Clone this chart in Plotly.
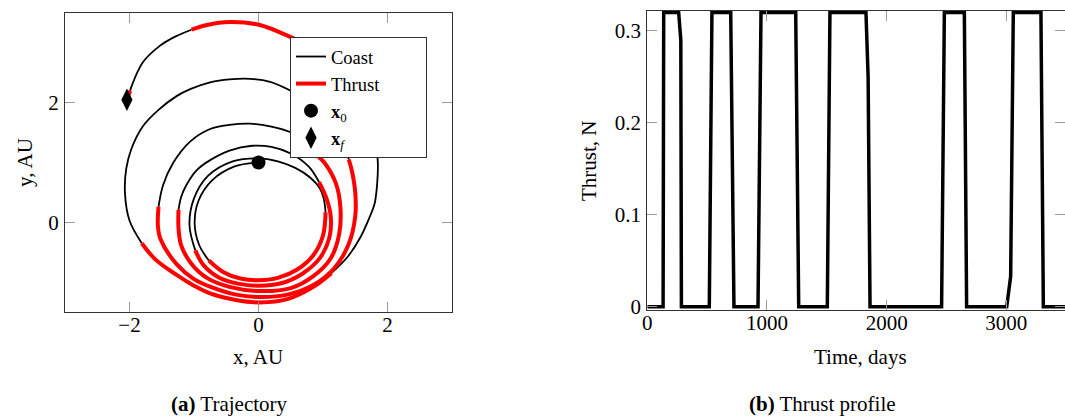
import plotly.graph_objects as go

# ---------------- Trajectory (AU) ----------------
# Coast arcs
C0_X = [0.0, -0.38, -0.72, -0.93, -0.99, -0.92, -0.77]
C0_Y = [1.0, 0.93, 0.70, 0.36, -0.02, -0.38, -0.64]
C1_X = [1.04, 1.01, 0.95, 0.80, 0.57, 0.30, 0.0, -0.40, -0.78, -1.0, -1.07, -0.98]
C1_Y = [0.17, 0.40, 0.57, 0.75, 0.91, 1.02, 1.07, 1.02, 0.78, 0.40, -0.05, -0.47]
C2_X = [0.94, 0.78, 0.50, 0.20, -0.10, -0.45, -0.75, -0.96, -1.12, -1.20, -1.24]
C2_Y = [0.67, 0.93, 1.15, 1.26, 1.28, 1.20, 1.04, 0.87, 0.62, 0.42, 0.21]
C3_X = [0.72, 0.49, 0.20, -0.13, -0.45, -0.75, -1.06, -1.32, -1.48, -1.55]
C3_Y = [1.38, 1.51, 1.60, 1.65, 1.63, 1.56, 1.35, 1.00, 0.62, 0.26]
C4_X = [1.40, 1.35, 1.20, 0.95, 0.50, 0.18, -0.13, -0.45, -0.75, -1.05, -1.27,
        -1.55, -1.79, -1.97, -2.05, -2.07, -2.00, -1.81]
C4_Y = [1.05, 1.25, 1.60, 1.90, 2.20, 2.35, 2.40, 2.39, 2.34, 2.23, 2.11,
        1.88, 1.61, 1.23, 0.90, 0.48, 0.03, -0.35]
C5_X = [1.13, 1.38, 1.58, 1.72, 1.80, 1.84, 1.85, 1.82, 1.74, 1.60]
C5_Y = [-0.85, -0.58, -0.25, 0.08, 0.31, 0.65, 1.00, 1.32, 1.68, 2.05]
C6_X = [-1.04, -1.30, -1.53, -1.79, -1.97, -1.99]
C6_Y = [3.22, 3.10, 2.95, 2.68, 2.27, 2.20]

# Thrust arcs
T1_X = [-0.77, -0.55, -0.28, 0.0, 0.30, 0.60, 0.85, 1.00, 1.04]
T1_Y = [-0.64, -0.83, -0.94, -0.97, -0.93, -0.79, -0.55, -0.22, 0.17]
T2_X = [-0.98, -0.85, -0.60, -0.30, 0.0, 0.35, 0.68, 0.95, 1.10, 1.12, 1.06, 0.94]
T2_Y = [-0.47, -0.72, -0.93, -1.03, -1.06, -1.02, -0.86, -0.60, -0.25, 0.10, 0.38, 0.67]
T3_X = [-1.24, -1.24, -1.20, -1.05, -0.80, -0.45, 0.02, 0.50, 0.85, 1.12, 1.25,
        1.27, 1.20, 1.02, 0.85, 0.72]
T3_Y = [0.21, -0.10, -0.38, -0.68, -0.93, -1.08, -1.15, -1.10, -0.90, -0.60, -0.20,
        0.25, 0.65, 1.00, 1.18, 1.38]
T4_X = [-1.55, -1.56, -1.52, -1.27, -1.00, -0.72, -0.35, 0.03, 0.45, 0.85, 1.18,
        1.40, 1.50, 1.50, 1.45, 1.40]
T4_Y = [0.26, -0.05, -0.28, -0.70, -0.95, -1.09, -1.21, -1.25, -1.21, -1.05, -0.76,
        -0.36, 0.10, 0.50, 0.85, 1.05]
T5_X = [-1.81, -1.60, -1.27, -1.00, -0.75, -0.35, 0.02, 0.46, 0.85, 1.13]
T5_Y = [-0.35, -0.62, -0.88, -1.06, -1.19, -1.30, -1.34, -1.28, -1.08, -0.85]
T6_X = [1.60, 1.25, 0.90, 0.49, 0.02, -0.45, -0.80, -1.04]
T6_Y = [2.05, 2.55, 2.88, 3.10, 3.30, 3.35, 3.30, 3.22]
T7_X = [-1.99, -2.03]
T7_Y = [2.20, 2.09]

X0 = [0.0]
Y0 = [1.0]
XF = [-2.04]
YF = [2.05]

# ---------------- Thrust profile ----------------
TIME_DAYS = [0, 132, 137, 262, 280, 285, 518, 532, 540, 697, 724, 925, 950,
             1240, 1265, 1504, 1526, 1827, 1845, 1861, 2459, 2482, 2649, 2668,
             3003, 3036, 3058, 3289, 3309, 3500]
THRUST_N = [0, 0, 0.32, 0.32, 0.29, 0, 0, 0.28, 0.32, 0.32, 0, 0, 0.32,
            0.32, 0, 0, 0.32, 0.32, 0.25, 0, 0, 0.32, 0.32, 0,
            0, 0.033, 0.32, 0.32, 0, 0]

X_TICKS_TRAJ = [-2, 0, 2]
Y_TICKS_TRAJ = [0, 2]
X_TICKS_T = [0, 1000, 2000, 3000]
Y_TICKS_T = [0, 0.1, 0.2, 0.3]


def join(segs):
    xs, ys = [], []
    for sx, sy in segs:
        xs += list(sx) + [None]
        ys += list(sy) + [None]
    return xs, ys


coast_x, coast_y = join([(C0_X, C0_Y), (C1_X, C1_Y), (C2_X, C2_Y), (C3_X, C3_Y),
                         (C4_X, C4_Y), (C5_X, C5_Y), (C6_X, C6_Y)])
thr_x, thr_y = join([(T1_X, T1_Y), (T2_X, T2_Y), (T3_X, T3_Y), (T4_X, T4_Y),
                     (T5_X, T5_Y), (T6_X, T6_Y), (T7_X, T7_Y)])

FONT = "Liberation Serif"
PAD = "&nbsp;" * 9
fig = go.Figure()

fig.add_trace(go.Scatter(x=coast_x, y=coast_y, mode="lines", name="Coast",
                         line=dict(color="black", width=1.8, shape="spline"),
                         connectgaps=False, xaxis="x", yaxis="y"))
fig.add_trace(go.Scatter(x=thr_x, y=thr_y, mode="lines", name="Thrust" + PAD,
                         line=dict(color="#ff0000", width=4, shape="spline"),
                         connectgaps=False, xaxis="x", yaxis="y"))
fig.add_trace(go.Scatter(x=X0, y=Y0, mode="markers", name="<b>x</b><sub>0</sub>",
                         marker=dict(symbol="circle", size=14, color="black"),
                         xaxis="x", yaxis="y"))
fig.add_trace(go.Scatter(x=XF, y=YF, mode="markers", name="<b>x</b><sub><i>f</i></sub>",
                         marker=dict(symbol="diamond-tall", size=16, color="black"),
                         xaxis="x", yaxis="y"))

fig.add_trace(go.Scatter(x=TIME_DAYS, y=THRUST_N, mode="lines", showlegend=False,
                         line=dict(color="black", width=3.5),
                         xaxis="x2", yaxis="y2"))

axis_common = dict(ticks="inside", ticklen=10, tickwidth=1, tickcolor="#9a9a9a",
                   showline=True, linecolor="#333333", linewidth=1, mirror="allticks",
                   showgrid=False, zeroline=False, automargin=False,
                   tickfont=dict(family=FONT, size=21, color="black"))
xstand = dict(ticklabelstandoff=-6)
ystand = dict(ticklabelstandoff=1)

fig.update_layout(
    width=1065, height=417,
    margin=dict(l=0, r=0, t=0, b=0),
    template="none",
    paper_bgcolor="white", plot_bgcolor="white",
    font=dict(family=FONT, size=21, color="black"),
    xaxis=dict(domain=[65 / 1065, 452 / 1065], range=[-3, 3],
               tickmode="array", tickvals=X_TICKS_TRAJ, anchor="y",
               **axis_common, **xstand),
    yaxis=dict(domain=[1 - 312 / 417, 1 - 13 / 417], range=[-1.5, 3.5],
               tickmode="array", tickvals=Y_TICKS_TRAJ, anchor="x",
               **axis_common, **ystand),
    xaxis2=dict(domain=[647.3 / 1065, 1.0], range=[0, 3490],
                tickmode="array", tickvals=X_TICKS_T,
                ticktext=[str(v) for v in X_TICKS_T], anchor="y2",
                **axis_common, **xstand),
    yaxis2=dict(domain=[1 - 310 / 417, 1 - 11 / 417], range=[-0.0035, 0.3216],
                tickmode="array", tickvals=Y_TICKS_T,
                ticktext=["0", "0.1", "0.2", "0.3"], anchor="x2",
                **axis_common, **ystand),
    showlegend=True,
    legend=dict(x=290 / 1065, y=1 - 37 / 417, xanchor="left", yanchor="top",
                bgcolor="white", bordercolor="#333333", borderwidth=1,
                font=dict(family=FONT, size=18.5, color="black"),
                tracegroupgap=0, itemwidth=30),
)


def label(text, px, py, angle=0):
    fig.add_annotation(text=text, x=px / 1065, y=1 - py / 417, xref="paper", yref="paper",
                       showarrow=False, textangle=angle, xanchor="center", yanchor="middle",
                       font=dict(family=FONT, size=21, color="black"))


label("x, AU", 258, 357)
label("y, AU", 25, 163, -90)
label("Time, days", 860, 357)
label("Thrust, N", 589, 161, -90)
label("<b>(a)</b> Trajectory", 229, 404)
label("<b>(b)</b> Thrust profile", 822, 404)

fig.write_html("out.html",
               config={"displayModeBar": False},
               post_script="document.body.style.margin='0px';document.body.style.overflow='hidden';")
